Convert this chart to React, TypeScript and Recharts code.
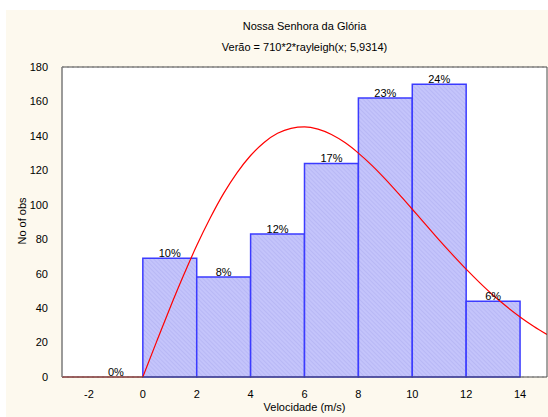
import React from 'react';
import {
  ComposedChart,
  Line,
  XAxis,
  YAxis,
  CartesianGrid,
  ReferenceArea,
} from 'recharts';

// Histogram bins (m/s) and counts
const binStart = [-2, 0, 2, 4, 6, 8, 10, 12];
const binEnd = [0, 2, 4, 6, 8, 10, 12, 14];
const counts = [0, 69, 58, 83, 124, 162, 170, 44];
const percentLabels = ['0%', '10%', '8%', '12%', '17%', '23%', '24%', '6%'];

// Fitted curve (expected counts)
const curveX = [
  0, 0.5, 1, 1.5, 2, 2.5, 3, 3.5, 4, 4.5, 5, 5.5, 6, 6.5, 7, 7.5, 8, 8.5, 9,
  9.5, 10, 10.5, 11, 11.5, 12, 12.5, 13, 13.5, 14, 14.5, 15,
];
const curveY = [
  0, 20.1, 39.8, 58.6, 76.3, 92.3, 106.6, 118.7, 128.6, 136.2, 141.5, 144.4,
  145.2, 143.9, 140.8, 136.1, 130.0, 122.9, 114.9, 106.3, 97.4, 88.5, 79.5,
  70.9, 62.6, 54.8, 47.5, 40.9, 34.9, 29.5, 24.7,
];
const zeroX = [-3, 0];
const zeroY = [0, 0];

const xTicks = [-2, 0, 2, 4, 6, 8, 10, 12, 14];
const yTicks = [0, 20, 40, 60, 80, 100, 120, 140, 160, 180];

const title = 'Nossa Senhora da Glória';
const subtitle = 'Verão = 710*2*rayleigh(x; 5,9314)';
const xLabel = 'Velocidade (m/s)';
const yLabel = 'No of obs';

const curveData = curveX.map((x, i) => ({ x, y: curveY[i] }));
const zeroData = zeroX.map((x, i) => ({ x, y: zeroY[i] }));

const FONT = '"Liberation Sans", Arial, sans-serif';
const tickStyle = { fontFamily: FONT, fontSize: 11, fill: '#000' };
const hiddenTick = { fontSize: 1, fill: 'none' };
const axisColor = '#4a4a4a';

export default function App() {
  return (
    <div
      style={{
        position: 'absolute',
        left: 0,
        top: 0,
        width: 548,
        height: 417,
        background: '#ffffff',
        overflow: 'hidden',
        fontFamily: FONT,
      }}
    >
      <div
        style={{
          position: 'absolute',
          left: 6,
          top: 10,
          right: 0,
          bottom: 0,
          background: '#FDF9EE',
        }}
      />
      <div
        style={{
          position: 'absolute',
          left: 62,
          width: 485,
          top: 20,
          textAlign: 'center',
          fontSize: 11,
          color: '#000',
        }}
      >
        {title}
      </div>
      <div
        style={{
          position: 'absolute',
          left: 62,
          width: 485,
          top: 41,
          textAlign: 'center',
          fontSize: 11,
          color: '#000',
        }}
      >
        {subtitle}
      </div>
      <div
        style={{
          position: 'absolute',
          left: 62,
          width: 485,
          top: 401,
          textAlign: 'center',
          fontSize: 11,
          color: '#000',
        }}
      >
        {xLabel}
      </div>
      <div
        style={{
          position: 'absolute',
          left: 22 - 40,
          width: 80,
          top: 222 - 7,
          textAlign: 'center',
          fontSize: 11,
          color: '#000',
          transform: 'rotate(-90deg)',
        }}
      >
        {yLabel}
      </div>
      <div style={{ position: 'absolute', left: 0, top: 0 }}>
        <ComposedChart
          width={548}
          height={417}
          margin={{ top: 67, right: 1, bottom: 10, left: 0 }}
        >
          <defs>
            <pattern
              id="hatch"
              patternUnits="userSpaceOnUse"
              width="3"
              height="3"
              patternTransform="rotate(-45)"
            >
              <rect width="3" height="3" fill="#c4c4fb" />
              <line x1="0" y1="0" x2="0" y2="3" stroke="#adadf0" strokeWidth="1" />
            </pattern>
          </defs>
          <CartesianGrid
            vertical={false}
            stroke="#b8b8b8"
            strokeDasharray="2 3"
            fill="#ffffff"
            fillOpacity={1}
          />
          <XAxis
            xAxisId="bottom"
            type="number"
            dataKey="x"
            domain={[-3, 15]}
            ticks={xTicks}
            interval={0}
            allowDataOverflow
            height={30}
            tickLine={false}
            tickMargin={7}
            stroke={axisColor}
            tick={tickStyle}
          />
          <XAxis
            xAxisId="top"
            orientation="top"
            type="number"
            domain={[-3, 15]}
            ticks={xTicks}
            interval={0}
            mirror
            tick={hiddenTick}
            tickSize={3}
            stroke={axisColor}
          />
          <YAxis
            yAxisId="left"
            type="number"
            domain={[0, 180]}
            ticks={yTicks}
            interval={0}
            width={62}
            tickLine={false}
            tickMargin={8}
            stroke="#7a7a7a"
            strokeWidth={1.5}
            tick={tickStyle}
          />
          <YAxis
            yAxisId="right"
            orientation="right"
            type="number"
            domain={[0, 180]}
            ticks={yTicks}
            interval={0}
            mirror
            tick={hiddenTick}
            tickSize={3}
            stroke={axisColor}
          />
          {counts.map((c, i) => (
            <ReferenceArea
              key={i}
              xAxisId="bottom"
              yAxisId="left"
              x1={binStart[i]}
              x2={binEnd[i]}
              y1={0}
              y2={c}
              fill="url(#hatch)"
              fillOpacity={1}
              stroke="#3b3bff"
              strokeWidth={1.5}
              strokeOpacity={1}
              label={{
                value: percentLabels[i],
                position: 'top',
                offset: 1,
                fill: '#000',
                fontSize: 11,
                fontFamily: FONT,
              }}
            />
          ))}
          <Line
            xAxisId="bottom"
            yAxisId="left"
            data={zeroData}
            dataKey="y"
            type="linear"
            stroke="#e00000"
            strokeWidth={1.2}
            dot={false}
            activeDot={false}
            isAnimationActive={false}
          />
          <Line
            xAxisId="bottom"
            yAxisId="left"
            data={curveData}
            dataKey="y"
            type="monotone"
            stroke="#ff0000"
            strokeWidth={1.2}
            dot={false}
            activeDot={false}
            isAnimationActive={false}
          />
        </ComposedChart>
      </div>
    </div>
  );
}
